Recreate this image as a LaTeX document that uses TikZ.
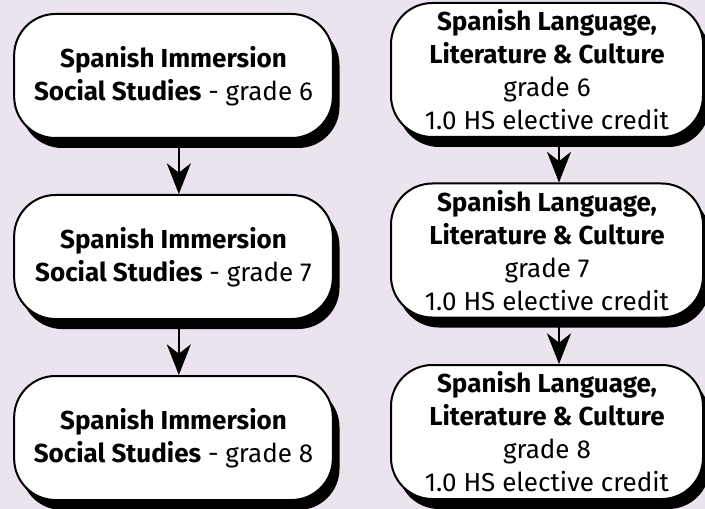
\documentclass[tikz,border=0pt]{standalone}
\usepackage{fontspec}
\setmainfont{Fira Sans}
\usetikzlibrary{arrows.meta,shadows}
\definecolor{lavender}{RGB}{235,228,239}

\begin{document}
\begin{tikzpicture}[x=0.75pt, y=-0.75pt,
    every node/.style={draw, line width=1.5pt, fill=white, rounded corners=31pt, align=center,
      font=\fontsize{19.5}{24.75}\selectfont,
      drop shadow={opacity=1, fill=black, shadow xshift=5pt, shadow yshift=-7.5pt}},
    leftbox/.style={minimum width=239pt, minimum height=93pt},
    rightbox/.style={minimum width=234pt, minimum height=100.5pt},
    arr/.style={line width=1.5pt, -{Stealth[length=23pt, width=18pt, inset=7pt]}}]
      \useasboundingbox (0,0) rectangle (705,509);
      \fill[lavender] (0,0) rectangle (705,509);
      \node[leftbox] (l6) at (173.5, 76) {\textbf{Spanish Immersion}\\ \textbf{Social Studies} - grade 6};
      \node[leftbox] (l7) at (173.5, 257) {\textbf{Spanish Immersion}\\ \textbf{Social Studies} - grade 7};
      \node[leftbox] (l8) at (173.5, 438) {\textbf{Spanish Immersion}\\ \textbf{Social Studies} - grade 8};
      \node[rightbox] (r6) at (547, 70) {\textbf{Spanish Language,}\\ \textbf{Literature \& Culture}\\ grade 6\\ 1.0 HS elective credit};
      \node[rightbox] (r7) at (547, 250.5) {\textbf{Spanish Language,}\\ \textbf{Literature \& Culture}\\ grade 7\\ 1.0 HS elective credit};
      \node[rightbox] (r8) at (547, 432) {\textbf{Spanish Language,}\\ \textbf{Literature \& Culture}\\ grade 8\\ 1.0 HS elective credit};
      \draw ([xshift=4pt]l6.south) edge[arr] ([xshift=4pt]l7.north);
      \draw ([xshift=4pt]l7.south) edge[arr] ([xshift=4pt]l8.north);
      \draw ([xshift=9pt]r6.south) edge[arr] ([xshift=9pt]r7.north);
      \draw ([xshift=9pt]r7.south) edge[arr] ([xshift=9pt]r8.north);
    \end{tikzpicture}
\end{document}
